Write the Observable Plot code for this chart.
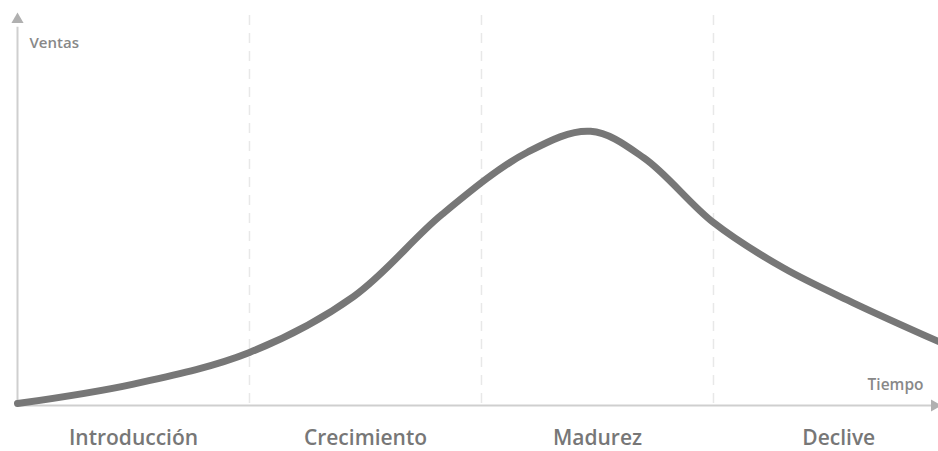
<!DOCTYPE html>
<html>
<head>
<meta charset="utf-8">
<script src="https://cdn.jsdelivr.net/npm/d3@7"></script>
<script src="https://cdn.jsdelivr.net/npm/@observablehq/plot@0.6"></script>
<style>
  html, body { margin: 0; padding: 0; background: #fff; }
  svg { display: block; }
</style>
</head>
<body>
<div id="chart"></div>
<script>
// Time (stage units) and sales values
const tiempo = [0, 0.5, 1.0, 1.45, 1.83, 2.2, 2.47, 2.7, 3.0, 3.3, 3.6, 3.978];
const ventas = [0.5, 5.5, 13.6, 28, 49, 65, 70.3, 63.5, 46.9, 35.3, 26.4, 16.2];
const etapas = ["Introducción", "Crecimiento", "Madurez", "Declive"];
const centrosEtapa = [0.5, 1.5, 2.5, 3.54];
const limitesEtapa = [1, 2, 3];

const curva = tiempo.map((t, i) => ({t, v: ventas[i]}));
const etiquetas = etapas.map((e, i) => ({e, t: centrosEtapa[i]}));
const xMax = 3.97;

const chart = Plot.plot({
  width: 938,
  height: 451,
  marginLeft: 17,
  marginRight: 0,
  marginTop: 15,
  marginBottom: 46,
  x: {domain: [0, xMax], axis: null},
  y: {domain: [0, 100], axis: null},
  style: {fontFamily: "'Open Sans', sans-serif", background: "#fff"},
  marks: [
    Plot.ruleX(limitesEtapa, {stroke: "#e8e8e8", strokeWidth: 1.5, strokeDasharray: "10,8"}),
    Plot.ruleX([0], {y1: 0, y2: 97, stroke: "#cfcfcf", strokeWidth: 2}),
    Plot.ruleY([0], {x1: 0, x2: xMax * 0.993, stroke: "#cfcfcf", strokeWidth: 2}),
    Plot.dot([{x: 0, y: 100}], {x: "x", y: "y", symbol: "triangle", r: 4.5, fill: "#b0b0b0", stroke: "none", dy: 4}),
    Plot.dot([{x: xMax, y: 0}], {x: "x", y: "y", symbol: "triangle", rotate: 90, r: 4.5, fill: "#b0b0b0", stroke: "none", dx: -4}),
    Plot.line(curva, {x: "t", y: "v", curve: "catmull-rom", stroke: "#777", strokeWidth: 7, strokeLinecap: "round"}),
    Plot.text(["Ventas"], {x: 0, y: 100, dx: 12, dy: 28, text: d => d, textAnchor: "start", fill: "#888", fontSize: 15, fontWeight: 600}),
    Plot.text(["Tiempo"], {x: xMax, y: 0, dx: -15, dy: -20, text: d => d, textAnchor: "end", fill: "#888", fontSize: 15.5, fontWeight: 600}),
    Plot.text(etiquetas, {x: "t", y: 0, dy: 33, text: "e", fill: "#777", fontSize: 21, fontWeight: 600, letterSpacing: 0.4})
  ]
});
document.getElementById("chart").appendChild(chart);
</script>
</body>
</html>
